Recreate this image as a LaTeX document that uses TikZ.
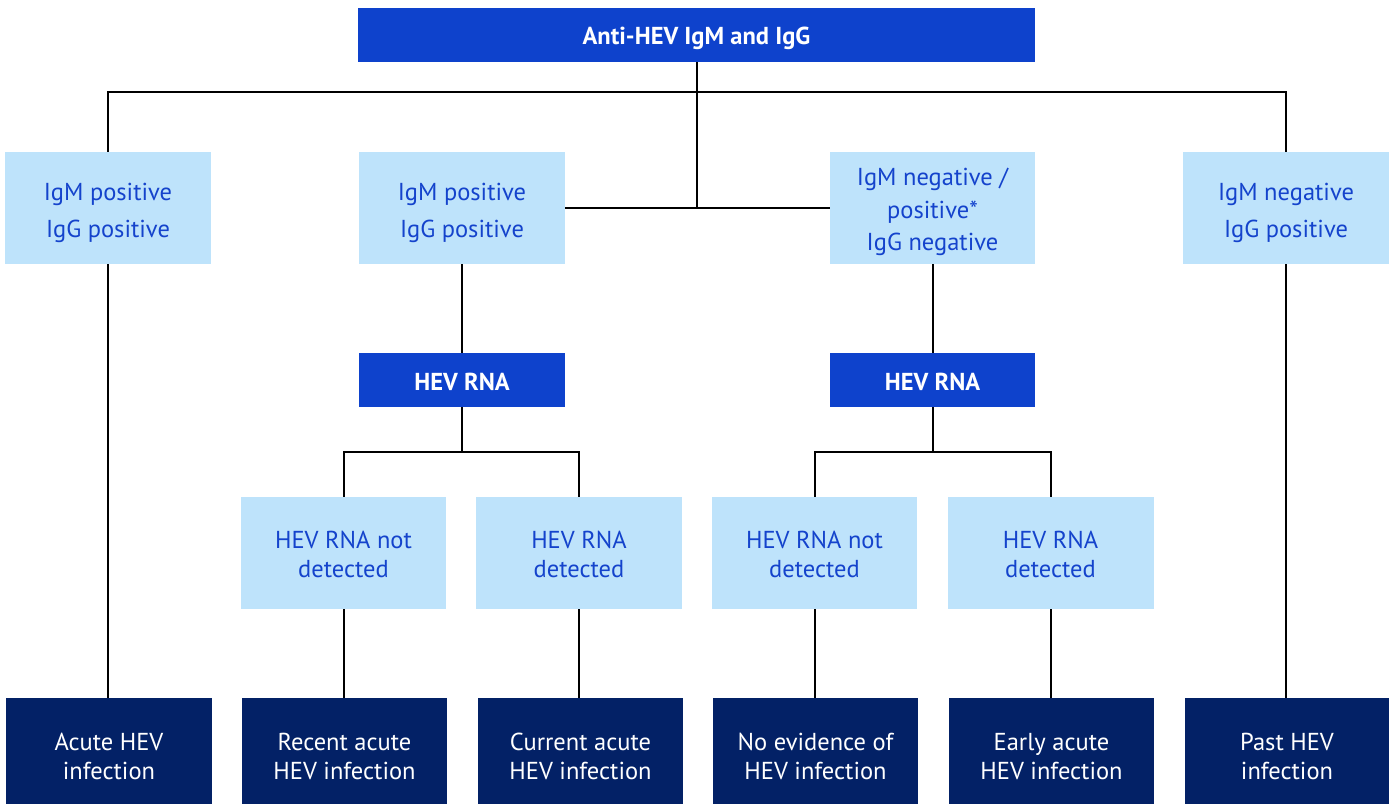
\documentclass[tikz,border=0pt]{standalone}
\usepackage{fontspec}
\setmainfont{PT Sans}
\definecolor{topblue}{HTML}{0E42CC}
\definecolor{lightbox}{HTML}{BEE3FB}
\definecolor{navy}{HTML}{032166}
\definecolor{txtblue}{HTML}{1443CC}
\newcommand\lowtxt[2]{\raisebox{-#1}[\height][\depth]{\begin{tabular}{@{}c@{}}#2\end{tabular}}}
\begin{document}
\begin{tikzpicture}[x=1pt,y=-1pt,
  base/.style={inner sep=0pt, align=center, font=\fontsize{24.5}{29}\selectfont},
  headbox/.style={base, fill=topblue, text=white, font=\fontsize{24.5}{29}\selectfont\bfseries, minimum height=54pt},
  condbox/.style={base, fill=lightbox, text=txtblue, minimum width=206pt, minimum height=112pt},
  resbox/.style={base, fill=navy, text=white, minimum width=206pt, minimum height=106pt},
  link/.style={draw=black, line width=2pt}
]
\useasboundingbox (0,0) rectangle (1395,805);
\node[headbox, minimum width=677pt] (top) at (696.5,35) {\lowtxt{4pt}{Anti-HEV IgM and IgG}};
\node[condbox, font=\fontsize{24.5}{37}\selectfont] (A) at (108,208) {\lowtxt{3.5pt}{IgM positive\\IgG positive}};
\node[condbox, font=\fontsize{24.5}{37}\selectfont] (B) at (462,208) {\lowtxt{3.5pt}{IgM positive\\IgG positive}};
\node[condbox, minimum width=205pt, font=\fontsize{24.5}{32.5}\selectfont] (C) at (932.5,208) {\lowtxt{4pt}{IgM negative /\\positive*\\IgG negative}};
\node[condbox, font=\fontsize{24.5}{37}\selectfont] (D) at (1286,208) {\lowtxt{3.5pt}{IgM negative\\IgG positive}};
\node[headbox, minimum width=206pt] (R1) at (462,380) {\lowtxt{5pt}{HEV RNA}};
\node[headbox, minimum width=205pt] (R2) at (932.5,380) {\lowtxt{5pt}{HEV RNA}};
\node[condbox, minimum width=205pt] (L1) at (343.5,553) {\lowtxt{4.5pt}{HEV RNA not\\detected}};
\node[condbox] (L2) at (579,553) {\lowtxt{4.5pt}{HEV RNA\\detected}};
\node[condbox, minimum width=205pt] (L3) at (814.5,553) {\lowtxt{4.5pt}{HEV RNA not\\detected}};
\node[condbox] (L4) at (1050.5,553) {\lowtxt{4.5pt}{HEV RNA\\detected}};
\node[resbox] (O1) at (109,751) {\lowtxt{8pt}{Acute HEV\\infection}};
\node[resbox, minimum width=205pt] (O2) at (344.5,751) {\lowtxt{8pt}{Recent acute\\HEV infection}};
\node[resbox, minimum width=205pt] (O3) at (580.5,751) {\lowtxt{8pt}{Current acute\\HEV infection}};
\node[resbox, minimum width=205pt] (O4) at (815.5,751) {\lowtxt{8pt}{No evidence of\\HEV infection}};
\node[resbox, minimum width=205pt] (O5) at (1051.5,751) {\lowtxt{8pt}{Early acute\\HEV infection}};
\node[resbox, minimum width=204pt] (O6) at (1287,751) {\lowtxt{8pt}{Past HEV\\infection}};
\coordinate (j) at (697,92);
\coordinate (k1) at (462,452);
\coordinate (k2) at (932.5,452);
\draw[link] (A.north) |- (j) -| (D.north);
\draw[link] (top.south) -- (top.south |- B.east);
\draw[link] (B.east) -- (C.west);
\draw[link] (B.south) -- (R1.north);
\draw[link] (C.south) -- (R2.north);
\draw[link] (R1.south) -- (k1);
\draw[link] (R2.south) -- (k2);
\draw[link] (L1.north) |- (k1) -| (L2.north);
\draw[link] (L3.north) |- (k2) -| (L4.north);
\draw[link] (A.south) -- (A.south |- O1.north);
\draw[link] (D.south) -- (D.south |- O6.north);
\draw[link] (L1.south) -- (L1.south |- O2.north);
\draw[link] (L2.south) -- (L2.south |- O3.north);
\draw[link] (L3.south) -- (L3.south |- O4.north);
\draw[link] (L4.south) -- (L4.south |- O5.north);
\end{tikzpicture}
\end{document}
